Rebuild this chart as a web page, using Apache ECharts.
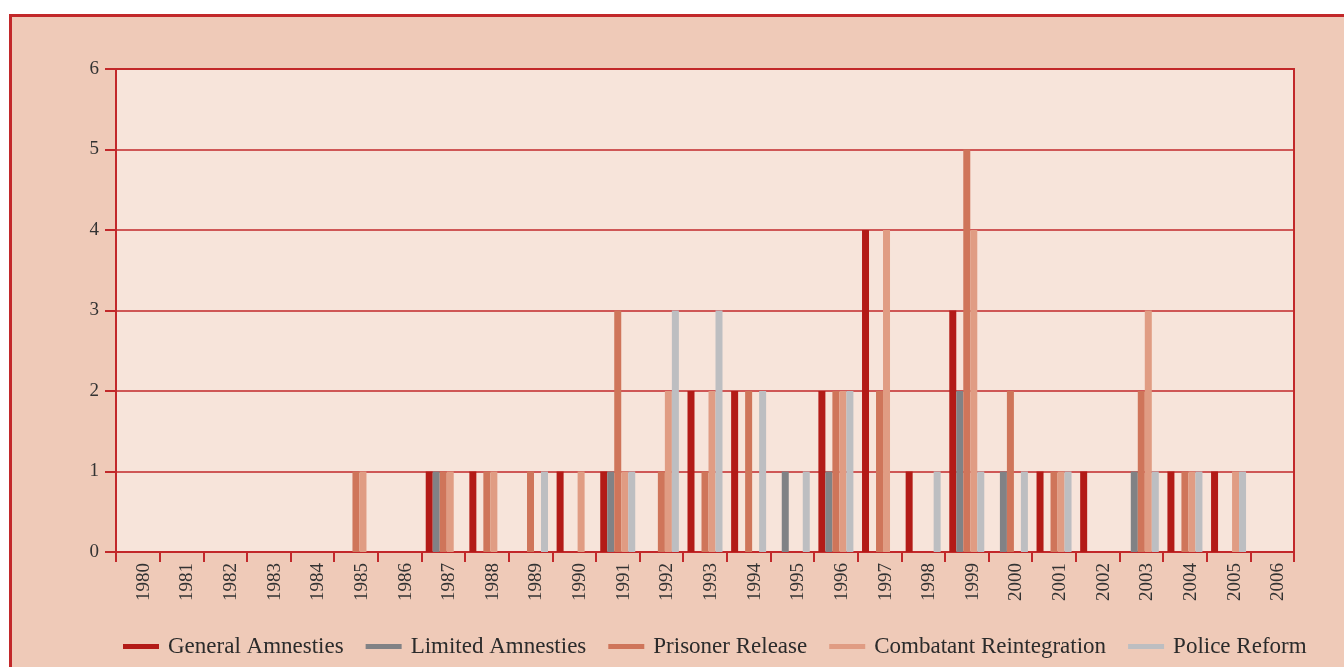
<!DOCTYPE html>
<html>
<head>
<meta charset="utf-8">
<script src="https://cdn.jsdelivr.net/npm/echarts@6/dist/echarts.min.js"></script>
<style>
  html, body { margin: 0; padding: 0; background: #ffffff; }
  #main { width: 1344px; height: 667px; }
</style>
</head>
<body>
<div id="main"></div>
<script>
  // years along the x axis
  const years = ['1980', '1981', '1982', '1983', '1984', '1985', '1986', '1987', '1988', '1989',
    '1990', '1991', '1992', '1993', '1994', '1995', '1996', '1997', '1998', '1999',
    '2000', '2001', '2002', '2003', '2004', '2005', '2006'];

  const generalAmnesties = [0, 0, 0, 0, 0, 0, 0, 1, 1, 0, 1, 1, 0, 2, 2, 0, 2, 4, 1, 3, 0, 1, 1, 0, 1, 1, 0];
  const limitedAmnesties = [0, 0, 0, 0, 0, 0, 0, 1, 0, 0, 0, 1, 0, 0, 0, 1, 1, 0, 0, 2, 1, 0, 0, 1, 0, 0, 0];
  const prisonerRelease = [0, 0, 0, 0, 0, 1, 0, 1, 1, 1, 0, 3, 1, 1, 2, 0, 2, 2, 0, 5, 2, 1, 0, 2, 1, 0, 0];
  const combatantReintegration = [0, 0, 0, 0, 0, 1, 0, 1, 1, 0, 1, 1, 2, 2, 0, 0, 2, 4, 0, 4, 0, 1, 0, 3, 1, 1, 0];
  const policeReform = [0, 0, 0, 0, 0, 0, 0, 0, 0, 1, 0, 1, 3, 3, 2, 1, 2, 0, 1, 1, 1, 1, 0, 1, 1, 1, 0];

  const seriesNames = ['General Amnesties', 'Limited Amnesties', 'Prisoner Release', 'Combatant Reintegration', 'Police Reform'];
  const seriesData = [generalAmnesties, limitedAmnesties, prisonerRelease, combatantReintegration, policeReform];
  const colors = ['#b31b17', '#818285', '#cf755a', '#e09c83', '#bdbec1'];

  const red = '#c2282a';
  const serif = 'Liberation Serif';

  const chart = echarts.init(document.getElementById('main'));
  chart.setOption({
    animation: false,
    backgroundColor: '#ffffff',
    color: colors,
    graphic: [{
      type: 'rect',
      z: -10,
      shape: { x: 10.5, y: 15.5, width: 1400, height: 700 },
      style: { fill: '#efcab8', stroke: red, lineWidth: 3 }
    }],
    grid: {
      left: 116,
      right: 50,
      top: 69,
      bottom: 115,
      show: true,
      backgroundColor: '#f7e4da',
      borderColor: red,
      borderWidth: 2
    },
    legend: {
      left: 118,
      top: 630,
      itemWidth: 36,
      itemHeight: 5,
      itemGap: 22,
      icon: 'rect',
      data: seriesNames,
      textStyle: {
        fontFamily: serif,
        fontSize: 23,
        color: '#2b2b2b',
        padding: [0, 0, 0, 4]
      }
    },
    xAxis: {
      type: 'category',
      data: years,
      axisLine: { lineStyle: { color: red, width: 2 } },
      axisTick: { show: true, length: 10, lineStyle: { color: red, width: 2 } },
      axisLabel: {
        rotate: 90,
        margin: 11,
        verticalAlign: 'top',
        lineHeight: 12,
        fontFamily: serif,
        fontSize: 19,
        color: '#333333'
      }
    },
    yAxis: {
      type: 'value',
      min: 0,
      max: 6,
      interval: 1,
      axisLine: { show: true, lineStyle: { color: red, width: 2 } },
      axisTick: { show: true, length: 11, lineStyle: { color: red, width: 2 } },
      splitLine: { lineStyle: { color: red, width: 1.5 } },
      axisLabel: {
        margin: 17,
        fontFamily: serif,
        fontSize: 19,
        color: '#333333'
      }
    },
    series: seriesNames.map((name, i) => ({
      name: name,
      type: 'bar',
      barWidth: 7,
      barGap: '0%',
      data: seriesData[i]
    }))
  });
</script>
</body>
</html>
